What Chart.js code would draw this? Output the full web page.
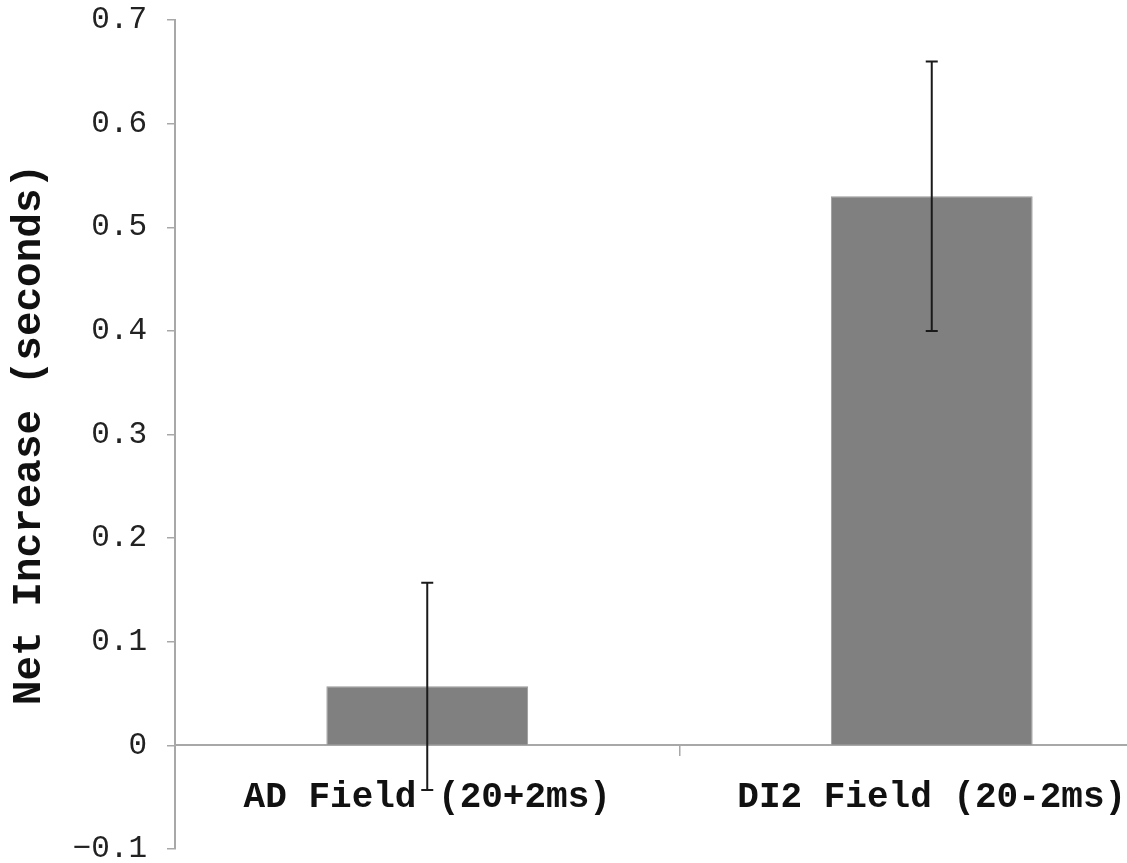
<!DOCTYPE html>
<html>
<head>
<meta charset="utf-8">
<script src="https://cdn.jsdelivr.net/npm/chart.js@4.4.1/dist/chart.umd.min.js"></script>
<style>
  html, body { margin: 0; padding: 0; background: #fff; overflow: hidden; }
  #wrap { width: 1127px; height: 863px; overflow: hidden; position: relative; }
  #box { width: 1190px; height: 863px; position: absolute; left: 0; top: 0; }
</style>
</head>
<body>
<div id="wrap"><div id="box"><canvas id="c"></canvas></div></div>
<script>
const categories = ["AD Field (20+2ms)", "DI2 Field (20-2ms)"];
const netIncrease = [0.057, 0.530];
const errorHalf = [0.100, 0.130];
const yTicks = [-0.1, 0, 0.1, 0.2, 0.3, 0.4, 0.5, 0.6, 0.7];

const errorBars = {
  id: 'errorBars',
  afterDatasetsDraw(chart) {
    const ctx = chart.ctx;
    const meta = chart.getDatasetMeta(0);
    const y = chart.scales.y;
    ctx.save();
    ctx.strokeStyle = '#1a1a1a';
    ctx.lineWidth = 2;
    meta.data.forEach((bar, i) => {
      const x = bar.x;
      const top = y.getPixelForValue(netIncrease[i] + errorHalf[i]);
      const bot = y.getPixelForValue(netIncrease[i] - errorHalf[i]);
      ctx.beginPath();
      ctx.moveTo(x, top); ctx.lineTo(x, bot);
      ctx.moveTo(x - 6, top); ctx.lineTo(x + 6, top);
      ctx.moveTo(x - 6, bot); ctx.lineTo(x + 6, bot);
      ctx.stroke();
    });
    ctx.restore();
  }
};

new Chart(document.getElementById('c'), {
  type: 'bar',
  data: {
    labels: categories,
    datasets: [{
      data: netIncrease,
      backgroundColor: '#808080',
      borderColor: '#9a9a9a',
      borderWidth: 1,
      categoryPercentage: 1,
      barPercentage: 0.4
    }]
  },
  options: {
    responsive: true,
    maintainAspectRatio: false,
    animation: false,
    layout: { padding: { left: 0, right: 6, top: 20, bottom: 14 } },
    plugins: { legend: { display: false }, tooltip: { enabled: false } },
    scales: {
      x: {
        type: 'category',
        position: { y: 0 },
        offset: true,
        afterFit(scale) { scale.paddingLeft = 0; scale.paddingRight = 0; scale.paddingTop = 0; scale.paddingBottom = 0; },
        grid: {
          offset: true,
          drawOnChartArea: false,
          drawTicks: true,
          tickLength: 10,
          color: '#a8a8a8',
          lineWidth: 1.5
        },
        border: { display: true, color: '#a8a8a8', width: 2 },
        ticks: {
          color: '#111',
          padding: 21,
          font: { family: 'Liberation Mono', size: 36, weight: 'bold' }
        }
      },
      y: {
        type: 'linear',
        min: -0.1,
        max: 0.7,
        afterBuildTicks(scale) { scale.ticks = yTicks.map(v => ({ value: v })); },
        afterFit(scale) { scale.width = 175; scale.paddingTop = 0; scale.paddingBottom = 0; },
        grid: {
          drawOnChartArea: false,
          drawTicks: true,
          tickLength: 8,
          color: '#a8a8a8',
          lineWidth: 1.5
        },
        border: { display: true, color: '#a8a8a8', width: 2 },
        ticks: {
          color: '#222',
          padding: 20,
          font: { family: 'Liberation Mono', size: 31 },
          callback: v => (Math.round(v * 10) / 10).toString().replace('-', '\u2212')
        },
        title: {
          display: true,
          text: 'Net Increase (seconds)',
          color: '#111',
          padding: { top: 5, bottom: 4 },
          font: { family: 'Liberation Mono', size: 41, weight: 'bold' }
        }
      }
    }
  },
  plugins: [errorBars]
});
</script>
</body>
</html>
